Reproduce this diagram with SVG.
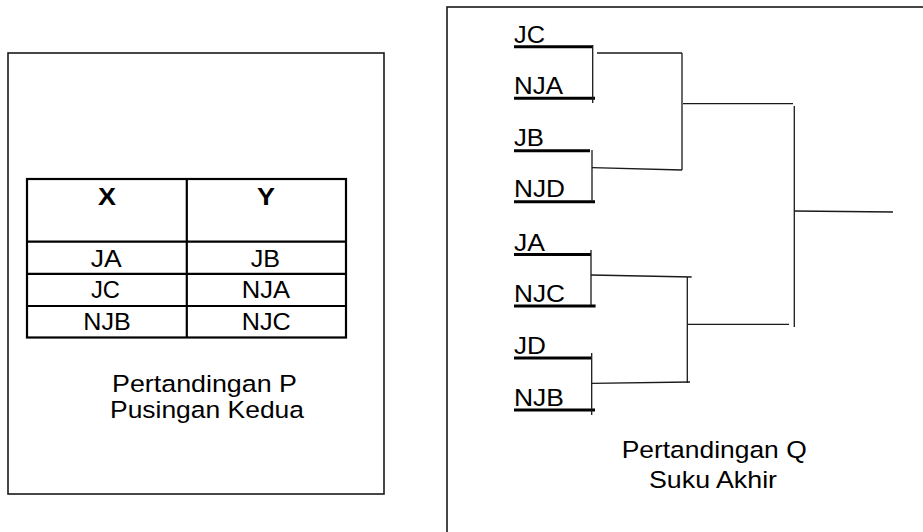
<svg xmlns="http://www.w3.org/2000/svg" width="923" height="532" viewBox="0 0 923 532">
<style>
text{font-family:"Liberation Sans",Arial,sans-serif;fill:#000}
.t{font-size:24.5px}
.b{font-size:24.5px;font-weight:bold}
.l{font-size:23.5px}
.frame{fill:none;stroke:#1a1a1a;stroke-width:1.6}
.grid{fill:none;stroke:#000;stroke-width:2.2}
.ul{stroke:#000;stroke-width:3;fill:none}
.c{stroke:#1a1a1a;stroke-width:1.3;fill:none}
</style>
<rect width="923" height="532" fill="#fff"/>

<g id="panel-p">
<rect class="frame" x="8" y="53" width="376" height="441"/>
<g id="table">
<rect class="grid" x="27" y="179" width="319" height="158.5"/>
<line class="grid" x1="186.8" y1="179" x2="186.8" y2="337.5"/>
<line class="grid" x1="27" y1="241.7" x2="346" y2="241.7"/>
<line class="grid" x1="27" y1="273.8" x2="346" y2="273.8"/>
<line class="grid" x1="27" y1="306" x2="346" y2="306"/>
<text class="b" x="98" y="205" textLength="18" lengthAdjust="spacingAndGlyphs">X</text>
<text class="b" x="257" y="205" textLength="18" lengthAdjust="spacingAndGlyphs">Y</text>
<text class="t" x="90.7" y="266.5" textLength="31" lengthAdjust="spacingAndGlyphs">JA</text>
<text class="t" x="250.7" y="266.5" textLength="29.3" lengthAdjust="spacingAndGlyphs">JB</text>
<text class="t" x="91" y="298.3" textLength="29" lengthAdjust="spacingAndGlyphs">JC</text>
<text class="t" x="241.7" y="298.3" textLength="48.3" lengthAdjust="spacingAndGlyphs">NJA</text>
<text class="t" x="83.3" y="329.5" textLength="47.4" lengthAdjust="spacingAndGlyphs">NJB</text>
<text class="t" x="241.7" y="330" textLength="49" lengthAdjust="spacingAndGlyphs">NJC</text>
</g>
<text class="t" x="112" y="392" textLength="185" lengthAdjust="spacingAndGlyphs">Pertandingan P</text>
<text class="t" x="110" y="417.5" textLength="194" lengthAdjust="spacingAndGlyphs">Pusingan Kedua</text>
</g>

<g id="panel-q">
<rect class="frame" x="447" y="7" width="490" height="540"/>
<text class="t" x="621.7" y="458.3" textLength="185" lengthAdjust="spacingAndGlyphs">Pertandingan Q</text>
<text class="t" x="649" y="488.3" textLength="128" lengthAdjust="spacingAndGlyphs">Suku Akhir</text>
</g>

<g id="team-JC"><text class="l" x="514" y="42.5" textLength="31" lengthAdjust="spacingAndGlyphs">JC</text><line class="ul" x1="514" y1="46.7" x2="593" y2="46.7"/></g>
<g id="team-NJA"><text class="l" x="514" y="94.3" textLength="49" lengthAdjust="spacingAndGlyphs">NJA</text><line class="ul" x1="514" y1="98.3" x2="595" y2="98.3"/></g>
<g id="team-JB"><text class="l" x="514" y="145.7" textLength="30" lengthAdjust="spacingAndGlyphs">JB</text><line class="ul" x1="514" y1="150.7" x2="590" y2="150.7"/></g>
<g id="team-NJD"><text class="l" x="514" y="196.7" textLength="51" lengthAdjust="spacingAndGlyphs">NJD</text><line class="ul" x1="514" y1="201.7" x2="595" y2="201.7"/></g>
<g id="team-JA"><text class="l" x="514" y="250.5" textLength="31" lengthAdjust="spacingAndGlyphs">JA</text><line class="ul" x1="514" y1="254.5" x2="591" y2="254.5"/></g>
<g id="team-NJC"><text class="l" x="514" y="301.5" textLength="51" lengthAdjust="spacingAndGlyphs">NJC</text><line class="ul" x1="514" y1="306" x2="595.6" y2="306"/></g>
<g id="team-JD"><text class="l" x="514" y="354" textLength="32" lengthAdjust="spacingAndGlyphs">JD</text><line class="ul" x1="514" y1="358" x2="591" y2="358"/></g>
<g id="team-NJB"><text class="l" x="514" y="405.5" textLength="50" lengthAdjust="spacingAndGlyphs">NJB</text><line class="ul" x1="514" y1="410" x2="595" y2="410"/></g>

<g id="connectors">
<path class="c" d="M592.7 45 V103"/>
<path class="c" d="M597 53 H682 M682 53 V170"/>
<path class="c" d="M592 150 V202"/>
<path class="c" d="M592 167.7 L682 170"/>
<path class="c" d="M683 103.7 H793"/>
<path class="c" d="M794.3 106 V327"/>
<path class="c" d="M794.3 211 L893 212"/>
<path class="c" d="M591 250 V305"/>
<path class="c" d="M591 275 L691.7 277"/>
<path class="c" d="M687.3 277 V383"/>
<path class="c" d="M591.7 353 V415"/>
<path class="c" d="M591 383.3 L690 382"/>
<path class="c" d="M687.3 324.3 H789"/>
</g>
</svg>
